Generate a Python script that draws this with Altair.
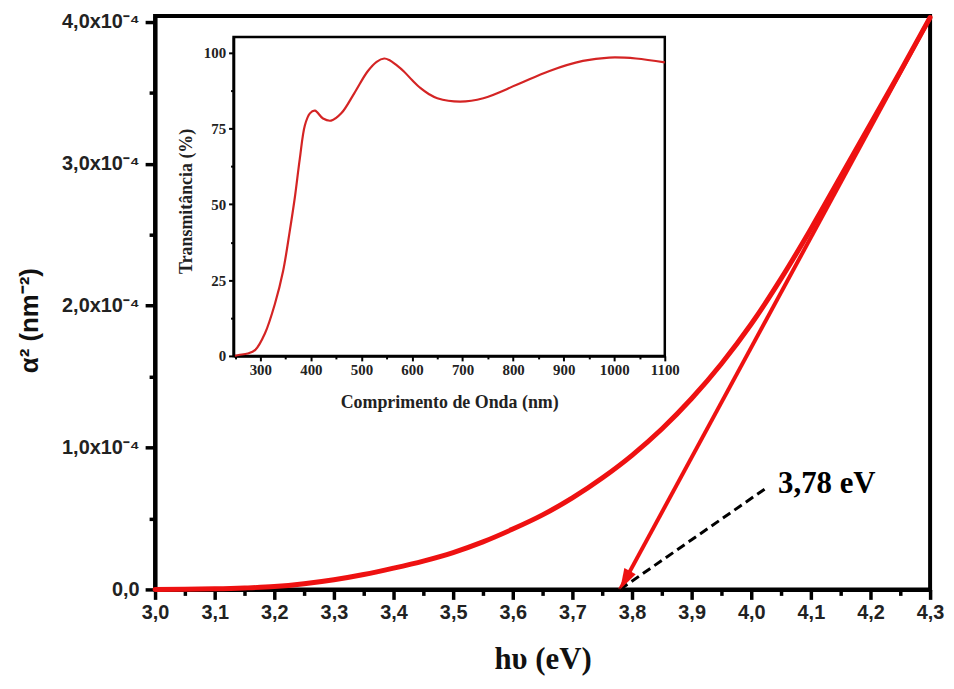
import math
import altair as alt
import pandas as pd

# ---------------- data (main: alpha^2 in units of 1e-4 nm^-2) ----------------
hv = [3.00, 3.05, 3.10, 3.15, 3.20, 3.25, 3.30, 3.35, 3.40, 3.45, 3.50, 3.55,
      3.60, 3.65, 3.70, 3.75, 3.80, 3.85, 3.90, 3.95, 4.00, 4.05, 4.10, 4.15,
      4.20, 4.25, 4.30]
alpha2 = [0.0, 0.001, 0.004, 0.01, 0.02, 0.04, 0.068, 0.105, 0.15, 0.20, 0.26,
          0.335, 0.425, 0.525, 0.645, 0.785, 0.945, 1.13, 1.345, 1.59, 1.87,
          2.19, 2.54, 2.91, 3.28, 3.65, 4.03]

fit_hv = [3.78, 4.30]
fit_alpha2 = [0.0, 4.03]

dash_hv = [3.78, 4.027]
dash_alpha2 = [0.0, 0.72]

gap_hv = [4.045]
gap_alpha2 = [0.74]
gap_text = ["3,78 eV"]

# ---------------- data (inset: transmittance) ----------------
wl = [250, 257, 275, 290, 309, 329, 345, 358, 368, 378, 388, 398, 408, 424,
      440, 460, 486, 512, 530, 545, 555, 570, 584, 600, 617, 633, 650, 695,
      741, 807, 872, 938, 990, 1043, 1100]
trans = [0.0, 0.3, 0.8, 2.0, 7.4, 17.3, 28.0, 41.0, 52.0, 65.0, 76.0, 80.0,
         80.9, 78.3, 77.6, 80.0, 86.7, 93.8, 97.0, 98.1, 97.6, 95.8, 93.8,
         91.0, 88.3, 86.4, 85.0, 83.9, 85.0, 89.4, 94.0, 97.3, 98.4, 98.1, 96.8]

x_ticks = [3.0, 3.05, 3.1, 3.15, 3.2, 3.25, 3.3, 3.35, 3.4, 3.45, 3.5, 3.55,
           3.6, 3.65, 3.7, 3.75, 3.8, 3.85, 3.9, 3.95, 4.0, 4.05, 4.1, 4.15,
           4.2, 4.25, 4.3]
y_ticks = [0, 0.5, 1.0, 1.5, 2.0, 2.5, 3.0, 3.5, 4.0]
ix_ticks = [250, 300, 350, 400, 450, 500, 550, 600, 650, 700, 750, 800, 850,
            900, 950, 1000, 1050, 1100]
iy_ticks = [0, 12.5, 25, 37.5, 50, 62.5, 75, 87.5, 100]

# ---------------- layout ----------------
W, H = 780, 577
X_DOM = [3.0, 4.3]
Y_DOM = [0, 4.04]
IX_DOM = [247, 1100]
IY_DOM = [0, 105.2]
IX_RANGE = [79, 513]
IY_RANGE = [342, 21]

RED = "#ee1111"
INSET_RED = "#d42424"

major_x = "abs(datum.value*10 - round(datum.value*10)) < 0.01"
major_y = "abs(datum.value - round(datum.value)) < 0.01"
major_ix = "datum.value % 100 == 0"
major_iy = "datum.value % 25 == 0"

xaxis = alt.Axis(
    values=x_ticks, orient="bottom", title="hυ (eV)",
    labelExpr=f"{major_x} ? replace(format(datum.value, '.1f'), '.', ',') : ''",
    labelFont="Liberation Sans", labelFontSize=20, labelFontWeight="bold",
    labelColor="#222", labelPadding=3, labelFlush=False, labelOverlap=False,
    tickSize={"condition": {"test": major_x, "value": 10}, "value": 6},
    tickWidth=3.5, tickColor="black", domainWidth=4, domainColor="black",
    grid=False, titleFont="Liberation Serif", titleFontSize=31,
    titleFontWeight="bold", titleColor="#111", titleX=390, titleY=80,
    titleAlign="center", titleBaseline="alphabetic",
)
yaxis = alt.Axis(
    values=y_ticks, orient="left", title="α² (nm⁻²)",
    labelExpr=(f"datum.value == 0 ? '0,0' : ({major_y} ? "
               "replace(format(datum.value, '.1f'), '.', ',') + 'x10⁻⁴' : '')"),
    labelFont="Liberation Sans", labelFontSize=20, labelFontWeight="bold",
    labelColor="#222", labelPadding=6, labelFlush=False, labelOverlap=False,
    tickSize={"condition": {"test": major_y, "value": 10}, "value": 6},
    tickWidth=3.5, tickColor="black", domainWidth=4, domainColor="black",
    grid=False, titleFont="Liberation Sans", titleFontSize=26,
    titleFontWeight="bold", titleColor="#111", titleX=-126, titleY=306,
    titleAlign="center", titleBaseline="middle", titleAngle=-90,
)

X_MAIN = alt.X("hv:Q", scale=alt.Scale(domain=X_DOM, nice=False, zero=False), axis=xaxis)
Y_MAIN = alt.Y("a2:Q", scale=alt.Scale(domain=Y_DOM, nice=False, zero=False), axis=yaxis)

curve_df = pd.DataFrame({"hv": hv, "a2": alpha2})
fit_df = pd.DataFrame({"hv": fit_hv, "a2": fit_alpha2})
dash_df = pd.DataFrame({"hv": dash_hv, "a2": dash_alpha2})
gap_df = pd.DataFrame({"hv": gap_hv, "a2": gap_alpha2, "t": gap_text})
tip_df = pd.DataFrame({"hv": fit_hv[:1], "a2": fit_alpha2[:1]})

# arrow head direction (screen coords) from fit line
dx_px = (fit_hv[1] - fit_hv[0]) / (X_DOM[1] - X_DOM[0]) * W
dy_px = (fit_alpha2[1] - fit_alpha2[0]) / (Y_DOM[1] - Y_DOM[0]) * H
arrow_angle = 180 + math.degrees(math.atan2(dx_px, dy_px))

curve = alt.Chart(curve_df).mark_line(
    color=RED, strokeWidth=5, interpolate="monotone", strokeCap="round"
).encode(x=X_MAIN, y=Y_MAIN)

fit = alt.Chart(fit_df).mark_line(color=RED, strokeWidth=4).encode(x=X_MAIN, y=Y_MAIN)

dash = alt.Chart(dash_df).mark_line(
    color="black", strokeWidth=3, strokeDash=[9, 5]
).encode(x=X_MAIN, y=Y_MAIN)

arrow = alt.Chart(tip_df).mark_point(
    shape="M0,0 L-0.65,2.1 L0.65,2.1 Z", size=400, filled=True, color=RED,
    opacity=1, angle=arrow_angle, strokeWidth=0
).encode(x=X_MAIN, y=Y_MAIN)

gap = alt.Chart(gap_df).mark_text(
    align="left", baseline="middle", font="Liberation Serif", fontSize=31,
    fontWeight="bold", color="black", dx=0
).encode(x=X_MAIN, y=Y_MAIN, text="t:N")

main = alt.layer(curve, fit, dash, arrow, gap)

# ---------------- inset ----------------
ixaxis = alt.Axis(
    values=ix_ticks, orient="bottom", offset=-(H - IY_RANGE[0]),
    title="Comprimento de Onda (nm)",
    labelExpr=f"{major_ix} ? format(datum.value, 'd') : ''",
    labelFont="Liberation Serif", labelFontSize=15, labelFontWeight="bold",
    labelColor="#222", labelPadding=2, labelFlush=False, labelOverlap=False,
    tickSize={"condition": {"test": major_ix, "value": 5}, "value": 3},
    tickWidth=2, tickColor="black", domainWidth=2.5, domainColor="black",
    grid=False, titleFont="Liberation Serif", titleFontSize=18,
    titleFontWeight="bold", titleColor="#222", titleX=296, titleY=52,
    titleAlign="center", titleBaseline="alphabetic",
)
iyaxis = alt.Axis(
    values=iy_ticks, orient="left", offset=-IX_RANGE[0],
    title="Transmitância (%)",
    labelExpr=f"{major_iy} ? format(datum.value, 'd') : ''",
    labelFont="Liberation Serif", labelFontSize=15, labelFontWeight="bold",
    labelColor="#222", labelPadding=3, labelFlush=False, labelOverlap=False,
    tickSize={"condition": {"test": major_iy, "value": 5}, "value": 3},
    tickWidth=2, tickColor="black", domainWidth=2.5, domainColor="black",
    grid=False, titleFont="Liberation Serif", titleFontSize=18,
    titleFontWeight="bold", titleColor="#222", titleX=-47, titleY=186,
    titleAlign="center", titleBaseline="middle", titleAngle=-90,
)

X_IN = alt.X("wl:Q", scale=alt.Scale(domain=IX_DOM, range=IX_RANGE, nice=False, zero=False), axis=ixaxis)
Y_IN = alt.Y("tr:Q", scale=alt.Scale(domain=IY_DOM, range=IY_RANGE, nice=False, zero=False), axis=iyaxis)

inset_df = pd.DataFrame({"wl": wl, "tr": trans})
frame_df = pd.DataFrame({"wl": [IX_DOM[0]], "wl2": [IX_DOM[1]], "tr": [IY_DOM[0]], "tr2": [IY_DOM[1]]})

inset_line = alt.Chart(inset_df).mark_line(
    color=INSET_RED, strokeWidth=2.2, interpolate="catmull-rom"
).encode(x=X_IN, y=Y_IN)

inset_frame = alt.Chart(frame_df).mark_rect(
    fill=None, fillOpacity=0, stroke="black", strokeWidth=2.5
).encode(x=X_IN, x2="wl2:Q", y=Y_IN, y2="tr2:Q")

inset = alt.layer(inset_frame, inset_line)

chart = alt.layer(main, inset).resolve_scale(
    x="independent", y="independent"
).resolve_axis(
    x="independent", y="independent"
).properties(
    width=W, height=H,
    autosize=alt.AutoSizeParams(type="none"),
    padding={"left": 148, "top": 6, "right": 16, "bottom": 86},
    background="white",
).configure_view(
    stroke="black", strokeWidth=4
)

chart.save("out.html", embed_options={"renderer": "svg", "actions": False})
